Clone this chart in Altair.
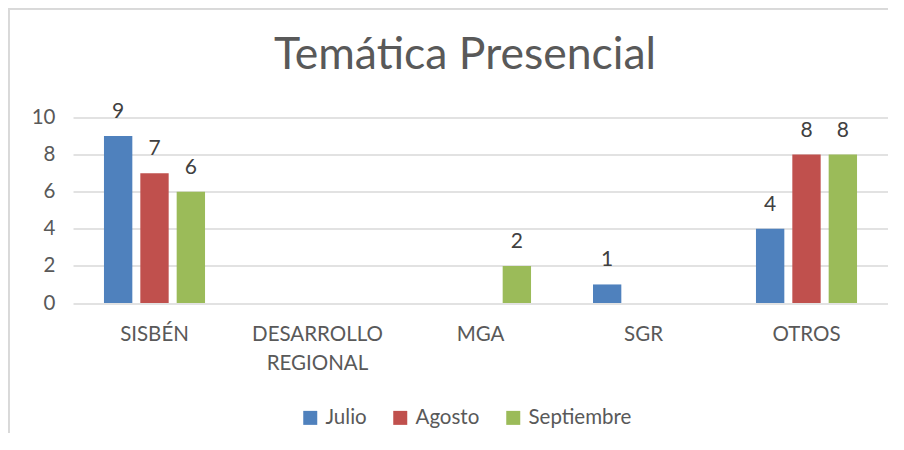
import altair as alt
import pandas as pd

categories = ["SISBÉN", "DESARROLLO REGIONAL", "MGA", "SGR", "OTROS"]
series = ["Julio", "Agosto", "Septiembre"]
julio = [9, 0, 0, 1, 4]
agosto = [7, 0, 0, 0, 8]
septiembre = [6, 0, 2, 0, 8]
colors = ["#4F81BD", "#C0504D", "#9BBB59"]
y_ticks = [0, 2, 4, 6, 8, 10]

rows = []
for name, vals in zip(series, [julio, agosto, septiembre]):
    for c, v in zip(categories, vals):
        rows.append({"categoria": c, "mes": name, "valor": v})
df = pd.DataFrame(rows)

FONT = "Lato"
GRID = "#D9D9D9"
TXT = "#595959"
FS = 20.5

x_enc = alt.X("categoria:N", sort=categories, title=None,
              scale=alt.Scale(paddingInner=0.38, paddingOuter=0.19),
              axis=alt.Axis(labelAngle=0, labelFont=FONT, labelFontSize=FS,
                            labelColor=TXT, labelPadding=21, ticks=False, tickSize=0,
                            domain=False, labelLineHeight=29,
                            labelExpr="split(datum.label, ' ')"))
xo_enc = alt.XOffset("mes:N", sort=series,
                     scale=alt.Scale(paddingInner=0.22, paddingOuter=0))
y_enc = alt.Y("valor:Q", title=None,
              scale=alt.Scale(domain=[0, 10], nice=False),
              axis=alt.Axis(values=y_ticks, labelFont=FONT, labelFontSize=FS,
                            labelColor=TXT, labelPadding=18, ticks=False, tickSize=0,
                            domain=False, grid=True, gridColor=GRID, gridWidth=1.5))

bars = alt.Chart(df).mark_bar().encode(
    x=x_enc, xOffset=xo_enc, y=y_enc,
    color=alt.Color("mes:N", sort=series, title=None,
                    scale=alt.Scale(domain=series, range=colors),
                    legend=alt.Legend(orient="none", legendX=227, legendY=290,
                                      direction="horizontal", symbolType="square",
                                      symbolSize=196, symbolStrokeWidth=0,
                                      labelFont=FONT, labelFontSize=FS, labelColor=TXT,
                                      labelOffset=5, columnPadding=23, padding=0))
)

labels = alt.Chart(df).transform_filter("datum.valor > 0").mark_text(
    font=FONT, fontSize=21, color="#404040", baseline="alphabetic", dy=-18
).encode(x=x_enc, xOffset=xo_enc, y=y_enc, text="valor:Q")

border_left = alt.Chart(df).mark_rule(color=GRID, strokeWidth=1.5).encode(
    x=alt.value(-64.25), y=alt.value(-109.5), y2=alt.value(320))
border_top = alt.Chart(df).mark_rule(color=GRID, strokeWidth=1.5).encode(
    x=alt.value(-65), x2=alt.value(815), y=alt.value(-108.75))

chart = alt.layer(border_left, border_top, bars, labels).properties(
    width=815, height=185.5,
    title=alt.TitleParams("Temática Presencial", font=FONT, fontSize=44.5,
                          fontWeight="normal", color=TXT, anchor="middle",
                          frame="group", baseline="alphabetic", offset=0,
                          dx=-15.5, dy=106),
    autosize=alt.AutoSizeParams(type="none"),
    padding={"left": 65, "top": 109.5, "right": 0, "bottom": 130},
).configure_view(stroke=None)

chart.save("out.html", embed_options={"renderer": "svg", "actions": False})
